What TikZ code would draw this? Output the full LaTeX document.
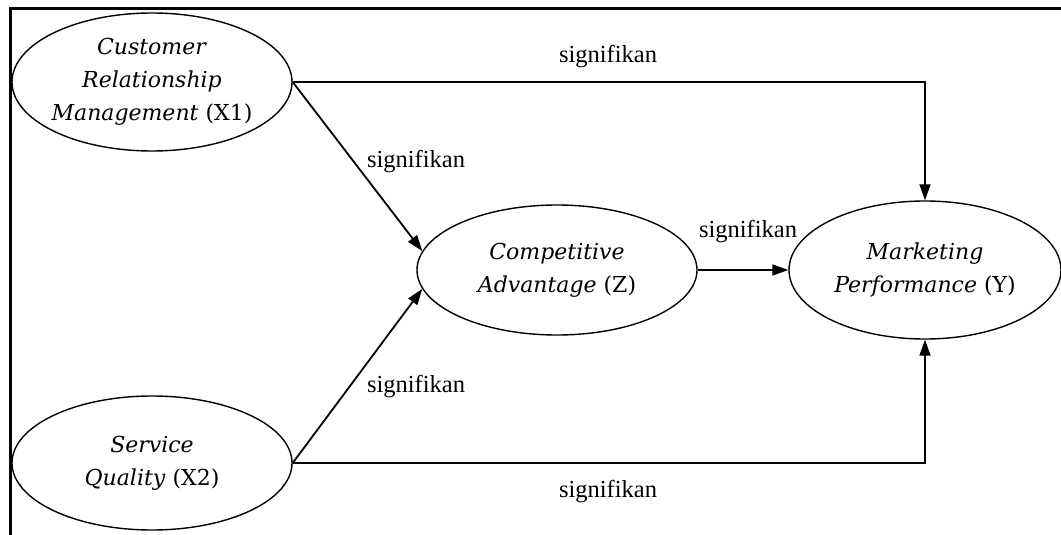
\documentclass[tikz,border=0pt]{standalone}
\usepackage{fontspec}
\setmainfont{Liberation Serif}
\newfontfamily\varfont{DejaVu Serif}
\usetikzlibrary{shapes.geometric,arrows.meta,positioning}

\tikzset{
  latentvar/.style={ellipse, draw, line width=1.4pt, inner sep=-40pt,
    minimum width=280pt, minimum height=138pt, align=center,
    font=\varfont\fontsize{22}{33}\selectfont},
  path/.style={draw, line width=1.8pt, -{Triangle[length=16pt,width=11pt]}},
  sig/.style={font=\fontsize{24.5}{28}\selectfont}
}

\begin{document}
\begin{tikzpicture}[x=1pt,y=-1pt]
      \useasboundingbox (0,0) rectangle (1061,535);
      % frame
      \draw[line width=3pt] (10,535) -- (10,9) -- (1061,9);
      % Nodes
      % constructs
      \node[latentvar] (x1) at (152,82) {\textit{Customer}\\\textit{Relationship}\\\textit{Management} (X1)};
      \node[latentvar, minimum height=134pt] (x2) at (152,463) {\textit{Service}\\\textit{Quality} (X2)};
      \node[latentvar, minimum height=130pt] (z) at (557,270) {\textit{Competitive}\\\textit{Advantage} (Z)};
      \node[latentvar, minimum width=272pt] (y) at (925,270) {\textit{Marketing}\\\textit{Performance} (Y)};
      % edges
      \draw[path] (x1.east) -| (y.north);
      \draw[path] (x1.east) -- (z.172);
      \draw[path] (x2.east) -- (z.188);
      \draw[path] (x2.east) -| (y.south);
      \draw[path] (z.east) -- (y.west);
      % labels
      \node[sig] (s1) at (608,57) {signifikan};
      \node[sig] (s2) at (416,162) {signifikan};
      \node[sig] (s3) at (416,387) {signifikan};
      \node[sig] (s4) at (748,232) {signifikan};
      \node[sig] (s5) at (608,492) {signifikan};
\end{tikzpicture}
\end{document}
